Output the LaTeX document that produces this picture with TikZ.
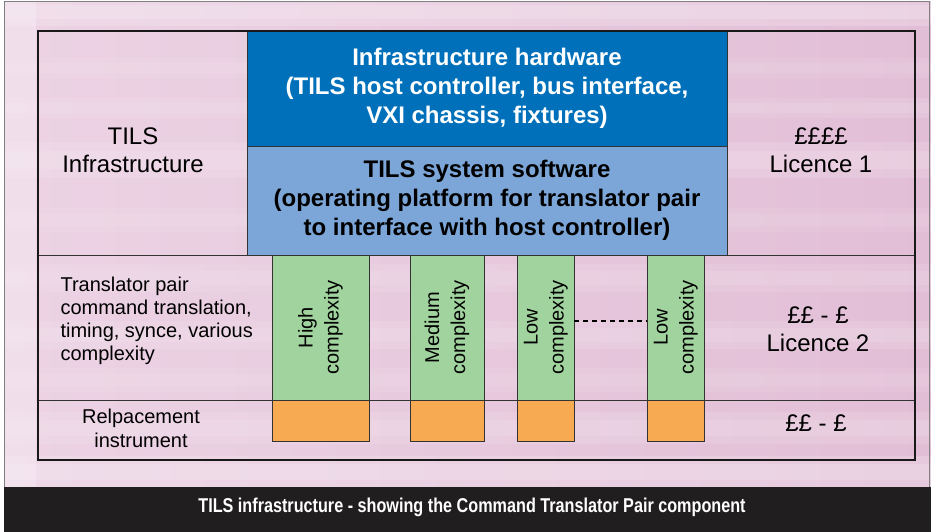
\documentclass[tikz,border=0pt]{standalone}
\usepackage{fontspec}
\setmainfont{Liberation Sans}
\usetikzlibrary{positioning}
\definecolor{hwblue}{RGB}{0,112,186}
\definecolor{swblue}{RGB}{124,166,216}
\definecolor{tpgreen}{RGB}{160,211,157}
\definecolor{riorange}{RGB}{248,170,82}
\definecolor{bgpink}{RGB}{226,190,214}
\definecolor{bgmid}{RGB}{236,211,228}
\definecolor{bgpale}{RGB}{248,240,246}
\definecolor{capblack}{RGB}{33,30,31}
\tikzset{
    boxline/.style = {draw=black!80, line width=1pt},
    hwbox/.style = {rectangle, boxline, fill=hwblue, text=white, inner sep=0pt, outer sep=0pt, align=center,
                    minimum width=480pt, minimum height=115pt, font=\bfseries\fontsize{24}{29}\selectfont},
    swbox/.style = {hwbox, fill=swblue, text=black, minimum height=109pt},
    tpbox/.style = {rectangle, boxline, fill=tpgreen, inner sep=0pt, outer sep=0pt, minimum height=145pt,
                    font=\fontsize{20}{26}\selectfont},
    ribox/.style = {rectangle, boxline, fill=riorange, inner sep=0pt, outer sep=0pt, minimum height=41pt},
    coltext/.style = {align=center, font=\fontsize{24}{28}\selectfont},
    rowtext/.style = {align=left, font=\fontsize{20}{23}\selectfont},
    captext/.style = {text=white, font=\bfseries\fontsize{20}{22}\selectfont},
    rowline/.style = {draw=black!80, line width=1pt},
    frame/.style = {draw=black!90, line width=2.5pt},
    more/.style = {draw=black, line width=1.8pt, dash pattern=on 5pt off 4pt}
}
\newcommand{\rot}[1]{\rotatebox{90}{\begin{tabular}{@{}c@{}}#1\end{tabular}}}

\begin{document}
\begin{tikzpicture}[x=1pt,y=-1pt]
\useasboundingbox (0,0) rectangle (931,532);
%
% streaky pink backdrop
\fill[left color=bgmid, right color=bgpink] (4,2) rectangle (931,487);
\foreach \yc/\h/\op in {12/14/0.5, 68/10/0.2, 108/10/0.25, 160/18/0.35, 220/12/0.2,
                        278/14/0.25, 335/14/0.3, 380/12/0.2, 428/16/0.3, 472/16/0.45}
{
  \fill[bgpale, opacity=\op/2] (4,\yc-\h) rectangle (931,\yc+\h);
  \fill[bgpale, opacity=\op/2] (4,\yc-\h/2) rectangle (931,\yc+\h/2);
}
\fill[bgpale, opacity=0.4] (4,2) rectangle (36,487);
\draw[gray, line width=1pt] (4,2) rectangle (929,487);
%
% table rows
\draw[rowline] (38,255) -- (915,255);
\draw[rowline] (38,400) -- (915,400);
%
\node[hwbox] at (487,88.5) (hw) {Infrastructure hardware\\(TILS host controller, bus interface,\\VXI chassis, fixtures)};
\node[swbox] at (487,200.5) (sw) {TILS system software\\(operating platform for translator pair\\to interface with host controller)};
%
\node[tpbox, minimum width=97pt] at (320.5,327.5) (high) {\rot{High\\complexity}};
\node[tpbox, minimum width=74pt] at (447,327.5) (medium) {\rot{Medium\\complexity}};
\node[tpbox, minimum width=57pt] at (545.5,327.5) (low) {\rot{Low\\complexity}};
\node[tpbox, minimum width=57pt] at (675.5,327.5) (lowb) {\rot{Low\\complexity}};
%
\node[ribox, minimum width=97pt, below=0pt of high] (rhigh) {};
\node[ribox, minimum width=74pt, below=0pt of medium] (rmedium) {};
\node[ribox, minimum width=57pt, below=0pt of low] (rlow) {};
\node[ribox, minimum width=57pt, below=0pt of lowb] (rlowb) {};
%
\draw[more] ([yshift=6.5pt]low.east) -- ([yshift=6.5pt]lowb.west);
%
\node[coltext] at (133,150) (infra) {TILS\\Infrastructure};
\node[coltext] at (821,150) (lic1) {££££\\Licence 1};
\node[rowtext, anchor=west] at (57,320.5) (pair) {Translator pair\\command translation,\\timing, synce, various\\complexity};
\node[coltext] at (818,329) (lic2) {££ - £\\Licence 2};
\node[rowtext, align=center, font=\fontsize{20}{24}\selectfont] at (141,428) (inst) {Relpacement\\instrument};
\node[coltext] at (816,423) (lic3) {££ - £};
%
\draw[frame] (38,31) rectangle (915,460);
%
% caption bar
\fill[capblack] (4,487) rectangle (931,532);
\node[captext] at (472,507) (cap) {\scalebox{0.81}[1]{TILS infrastructure - showing the Command Translator Pair component}};

\end{tikzpicture}
\end{document}
